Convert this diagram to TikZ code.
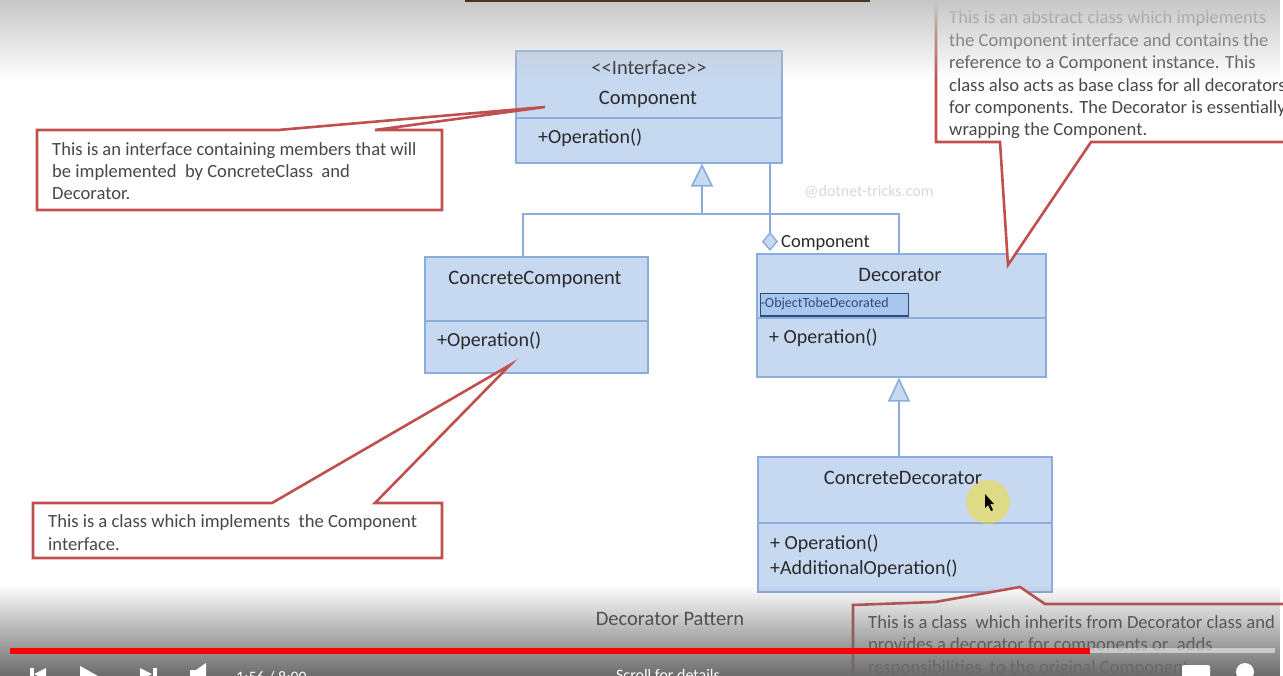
\documentclass[tikz,border=0pt]{standalone}
\usepackage{fontspec}
\setmainfont{Carlito}
\usetikzlibrary{fadings,arrows.meta}
\definecolor{clsfill}{HTML}{C6D9F1}
\definecolor{clsline}{HTML}{8CACDC}
\definecolor{txt}{HTML}{2A2A2A}
\definecolor{notered}{HTML}{C0504D}
\definecolor{notetxt}{HTML}{484848}
\definecolor{selfill}{HTML}{A9C6EE}
\definecolor{selline}{HTML}{2E4A78}
\begin{document}
\begin{tikzpicture}[x=1pt,y=-1pt,
  classbox/.style={draw=clsline, fill=clsfill, line width=1.6pt, inner sep=0pt, anchor=north west},
  ctext/.style={text=txt, font=\fontsize{20.5}{22}\selectfont, inner sep=0pt},
  mtext/.style={text=txt, font=\fontsize{20}{25}\selectfont, inner sep=0pt, anchor=base west, align=left},
  note/.style={draw=notered, line width=2.6pt, fill=white, line join=miter},
  notetext/.style={text=notetxt, font=\fontsize{18.6}{22.4}\selectfont, align=left, inner sep=0pt, anchor=base west},
  link/.style={draw=clsline, line width=1.6pt},
  divider/.style={draw=clsline, line width=1.6pt}]
\useasboundingbox (0,0) rectangle (1283,676);
\clip (0,0) rectangle (1283,676);
\fill[white] (0,0) rectangle (1283,676);

% ---------- classes ----------
\node[classbox, minimum width=266pt, minimum height=112pt] (comp) at (515,50) {};
\draw[divider] (comp.west |- 0,118) -- (comp.east |- 0,118);
\node[ctext, anchor=base, font=\fontsize{20.5}{22}\selectfont] (compst) at (649,75) {{<}{<}Interface{>}{>}};
\node[ctext, anchor=base] (compname) at (648,105) {Component};
\node[mtext] (compop) at (538,144) {+Operation()};

\node[classbox, minimum width=223pt, minimum height=116pt] (cc) at (424,256) {};
\draw[divider] (cc.west |- 0,321) -- (cc.east |- 0,321);
\node[ctext, anchor=base] (ccname) at (535,285) {ConcreteComponent};
\node[mtext] (ccop) at (437,347) {+Operation()};

\node[classbox, minimum width=289pt, minimum height=123pt] (dec) at (756,253) {};
\draw[divider] (dec.west |- 0,318) -- (dec.east |- 0,318);
\node[ctext, anchor=base] (decname) at (900,282) {Decorator};
\node[draw=selline, line width=1.2pt, fill=selfill, anchor=north west, minimum width=148pt, minimum height=22pt, inner sep=0pt] (sel) at (760,293) {};
\draw[selline, line width=2.5pt] (sel.south west) -- (sel.south east);
\node[text=selline, font=\fontsize{14}{15}\selectfont, anchor=west, inner sep=0.5pt] (field) at ([yshift=1pt]sel.west) {-ObjectTobeDecorated};
\node[mtext] (decop) at (769,344) {+ Operation()};

\node[classbox, minimum width=294pt, minimum height=135pt] (cd) at (757,456) {};
\draw[divider] (cd.west |- 0,523) -- (cd.east |- 0,523);
\node[ctext, anchor=base] (cdname) at (903,484) {ConcreteDecorator};
\node[mtext] (cdop) at (770,574) {+ Operation()\\+AdditionalOperation()};

% ---------- connectors ----------
\coordinate (jl) at (523,214);
\coordinate (jm) at (702,214);
\coordinate (jr) at (899,214);
\draw[link] (jl |- cc.north) -- (jl) -- (jr) -- (jr |- dec.north);
\draw[link, -{Triangle[length=23pt, width=22pt, fill=clsfill, line width=1.6pt]}] (jm) -- (jm |- comp.south);
\draw[link, -{Triangle[length=24pt, width=22pt, fill=clsfill, line width=1.6pt]}] (cd.north -| jr) -- (dec.south -| jr);
\coordinate (ag) at (770,0);
\draw[link, -{Diamond[length=19pt, width=16pt, fill=clsfill, line width=1.4pt]}] (comp.south -| ag) -- ([yshift=2pt]dec.north -| ag);
\node[text=txt, font=\fontsize{18.5}{20}\selectfont, anchor=base west, inner sep=0pt] (aglabel) at (781,248) {Component};

\node[text=black!15, font=\fontsize{16}{18}\selectfont, inner sep=0pt] (wm) at (869,192) {@dotnet-tricks.com};

% ---------- notes ----------
\draw[note] (37,130) -- (278,130) -- (545,107) -- (375,130) -- (442,130) -- (442,210) -- (37,210) -- cycle;
\node[notetext] (n1) at (52,200) {This is an interface containing members that will\\be implemented\ \ by ConcreteClass\ \ and\\Decorator.};

\draw[note] (936,-10) -- (936,142) -- (1000,142) -- (1008,265) -- (1091,142) -- (1300,142) -- (1300,-10);
\node[notetext] (n2) at (949,136) {This is an abstract class which implements\\the Component interface and contains the\\reference to a Component instance. This\\class also acts as base class for all decorators\\for components. The Decorator is essentially\\wrapping the Component.};

\draw[note] (33,503) -- (272,503) -- (510,365) -- (375,503) -- (442,503) -- (442,558) -- (33,558) -- cycle;
\node[notetext] (n3) at (48,550) {This is a class which implements\ \ the Component\\interface.};

\draw[note] (853,700) -- (853,605) -- (935,602) -- (1020,587) -- (1045,604) -- (1300,604) -- (1300,700);
\node[notetext] (n4) at (868,673) {This is a class\ \ which inherits from Decorator class and\\provides a decorator for components or\ \ adds\\responsibilities\ \ to the original Component.};

% ---------- cursor ----------
\fill[yellow!80!orange, opacity=0.45] (988,502) circle (22);
\fill[black] (985,494) -- (985,508) -- (988,505) -- (991,511) -- (993,510) -- (990,504) -- (994,504) -- cycle;

\node[text=black!75, font=\fontsize{20.5}{22}\selectfont, anchor=base, inner sep=0pt] (title) at (670,625) {Decorator Pattern};

% ---------- video overlays ----------
\fill[black!22, path fading=south] (0,0) rectangle (1283,80);
\fill[black!60!brown] (465,-5) rectangle (870,2);
\fill[black!58, path fading=north] (0,585) rectangle (1283,676);
\fill[white, opacity=0.5] (10,648) rectangle (1275,653);
\fill[red] (10,648) rectangle (1090,654);
\fill[white] (30,668) rectangle (34,680);
\fill[white] (46,668) -- (34,674) -- (46,680) -- cycle;
\fill[white] (80,666) -- (98,676) -- (80,686) -- cycle;
\fill[white] (140,668) -- (152,674) -- (140,680) -- cycle;
\fill[white] (153,668) rectangle (157,680);
\fill[white] (190,670) rectangle (196,680);
\fill[white] (196,670) -- (206,663) -- (206,686) -- (196,680) -- cycle;
\node[text=white, font=\fontsize{16}{18}\selectfont, anchor=base west, inner sep=0pt] (time) at (236,682) {1:56 / 8:00};
\node[text=white, font=\fontsize{16}{18}\selectfont, anchor=base, inner sep=0pt] (scroll) at (668,680) {Scroll for details};
\fill[white, rounded corners=2pt] (1182,665) rectangle (1210,685);
\fill[white] (1245,672) circle (9);
\end{tikzpicture}
\end{document}
